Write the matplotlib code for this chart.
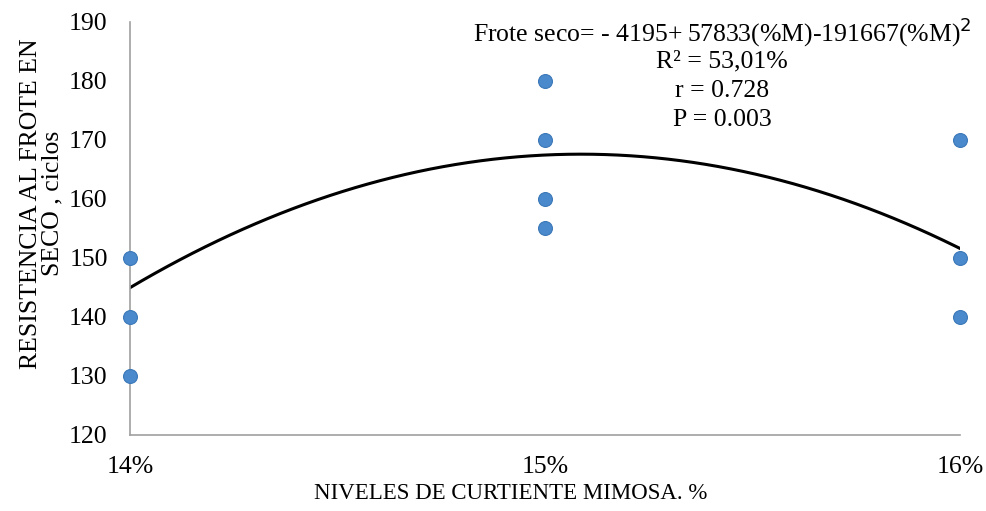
"""Dry rub resistance vs mimosa tanning level, scatter with quadratic trend."""

import matplotlib

matplotlib.use("Agg")
import matplotlib.pyplot as plt
import numpy as np

plt.rcParams["font.family"] = ["Liberation Serif", "DejaVu Serif"]

# observed values
levels = [0.14, 0.14, 0.14, 0.15, 0.15, 0.15, 0.15, 0.16, 0.16, 0.16]
ciclos = [150, 140, 130, 180, 170, 160, 155, 170, 150, 140]

# quadratic trend as stated in the chart: a + b*M + c*M^2
trend_coef = [-191667, 57833, -4195]

x_ticks = [0.14, 0.15, 0.16]
x_labels = ["14%", "15%", "16%"]
y_ticks = [120, 130, 140, 150, 160, 170, 180, 190]

eq_lines = [
    "Frote seco= - 4195+ 57833(%M)-191667(%M)$^2$",
    "R² = 53,01%",
    "r = 0.728",
    "P = 0.003",
]

fig = plt.figure(figsize=(9.86, 5.11), dpi=100)
ax = fig.add_axes([0.1318, 0.149, 0.8418, 0.808])

xs = np.linspace(x_ticks[0], x_ticks[-1], 200)
ax.plot(xs, np.polyval(trend_coef, xs), color="black", lw=2.2, zorder=2)
ax.plot(levels, ciclos, "o", color="#4a89cc", mec="#3b78b8", mew=0.8,
        markersize=10, clip_on=False, zorder=3)

ax.set_xlim(x_ticks[0], x_ticks[-1])
ax.set_ylim(y_ticks[0], y_ticks[-1])
ax.set_xticks(x_ticks)
ax.set_xticklabels(x_labels)
ax.set_yticks(y_ticks)
ax.tick_params(length=0, labelsize=18.5)
ax.tick_params(axis="y", pad=16)
ax.tick_params(axis="x", pad=15)

for side in ["top", "right"]:
    ax.spines[side].set_visible(False)
for side in ["left", "bottom"]:
    ax.spines[side].set_color("#a0a0a0")
    ax.spines[side].set_linewidth(1.2)

ax.set_xlabel("NIVELES DE CURTIENTE MIMOSA. %", fontsize=16.5)
ax.xaxis.set_label_coords(0.459, -0.117)
ax.set_ylabel("RESISTENCIA AL FROTE EN\nSECO , ciclos", fontsize=18.5,
              linespacing=0.95)
ax.yaxis.set_label_coords(-0.08, 0.56)

for i, line in enumerate(eq_lines):
    fig.text(722 / 986, 1 - (32 + 29.5 * i) / 511, line, fontsize=18.5,
             ha="center", va="center")

fig.savefig("out.png", dpi=100)
